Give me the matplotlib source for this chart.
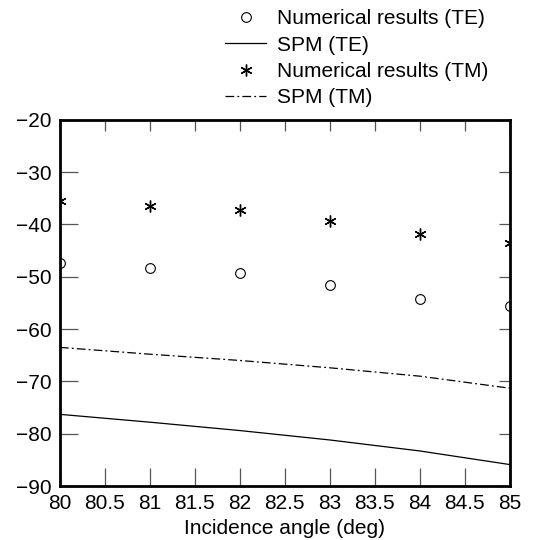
import matplotlib
matplotlib.use('Agg')
import matplotlib.pyplot as plt

angles = [80, 81, 82, 83, 84, 85]
te_numerical = [-47.3, -48.4, -49.3, -51.5, -54.3, -55.6]
tm_numerical = [-35.5, -36.4, -37.2, -39.3, -41.9, -43.5]
te_spm = [-76.3, -77.8, -79.4, -81.2, -83.3, -85.9]
tm_spm = [-63.5, -64.8, -66.0, -67.4, -69.0, -71.3]

x_ticks = [80, 80.5, 81, 81.5, 82, 82.5, 83, 83.5, 84, 84.5, 85]
x_tick_labels = ['80', '80.5', '81', '81.5', '82', '82.5', '83', '83.5', '84', '84.5', '85']
y_ticks = [-90, -80, -70, -60, -50, -40, -30, -20]

plt.rcParams['font.family'] = ['Liberation Sans', 'DejaVu Sans']
plt.rcParams['axes.unicode_minus'] = True

fig = plt.figure(figsize=(5.4, 5.4), dpi=100)
ax = fig.add_axes([0.111, 0.1, 0.833, 0.678])

h1, = ax.plot(angles, te_numerical, linestyle='none', marker='o', markersize=7,
              markerfacecolor='white', markeredgecolor='black', markeredgewidth=0.8,
              label='Numerical results (TE)')
h2, = ax.plot(angles, te_spm, color='black', linewidth=0.9, label='SPM (TE)')
h3, = ax.plot(angles, tm_numerical, linestyle='none', marker=(6, 2, 0), markersize=8.5,
              color='black', markeredgewidth=1.0, label='Numerical results (TM)')
h4, = ax.plot(angles, tm_spm, color='black', linewidth=0.9, dashes=(7, 2.5, 1.5, 2.5),
              label='SPM (TM)')

ax.set_xlim(80, 85)
ax.set_ylim(-90, -20)
ax.set_xticks(x_ticks)
ax.set_xticklabels(x_tick_labels)
ax.set_yticks(y_ticks)
ax.tick_params(direction='in', length=13, width=0.9, color='#555555',
               top=True, right=True, labelsize=15, pad=6)
# shorter ticks on the top and right edges
for t in ax.xaxis.get_major_ticks() + ax.yaxis.get_major_ticks():
    t.tick2line.set_markersize(8)
for side in ax.spines.values():
    side.set_linewidth(2)
ax.set_xlabel('Incidence angle (deg)', fontsize=15, labelpad=4)

fig.legend(handles=[h1, h2, h3, h4], loc='upper left', bbox_to_anchor=(0.393, 1.006),
           frameon=False, fontsize=15, handlelength=2.0, handletextpad=0.5,
           labelspacing=0.35, borderaxespad=0.2)

fig.savefig('out.png', dpi=100)
